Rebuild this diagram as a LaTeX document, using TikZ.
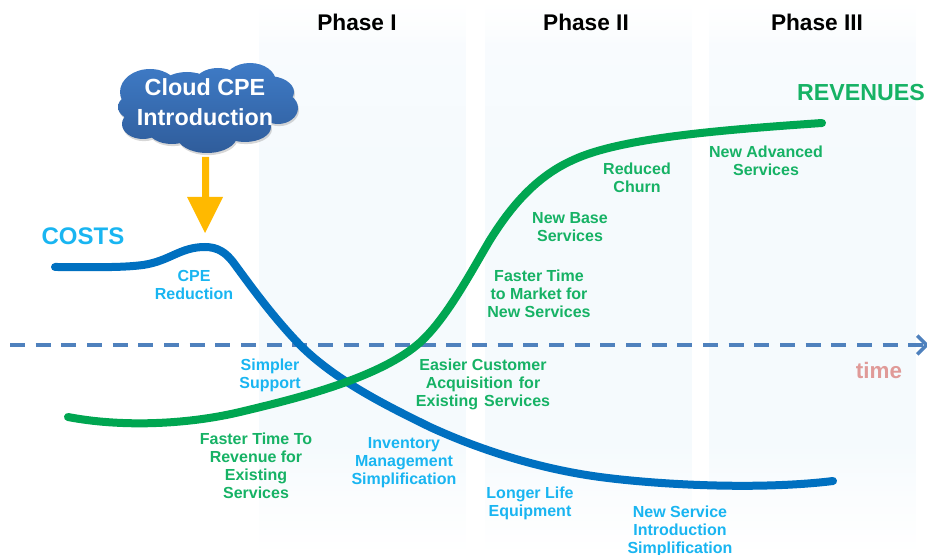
\documentclass[tikz,border=0pt]{standalone}
\usepackage{fontspec}
\setmainfont{Liberation Sans}
\usetikzlibrary{arrows.meta,calc}
\definecolor{costblue}{HTML}{0070C0}
\definecolor{costtxt}{HTML}{19B5F1}
\definecolor{revgreen}{HTML}{00A651}
\definecolor{revtxt}{HTML}{16B265}
\definecolor{axisblue}{HTML}{4F81BD}
\definecolor{timepink}{HTML}{E09A98}
\definecolor{cloudtop}{HTML}{3F7CC8}
\definecolor{cloudbot}{HTML}{2F5C9A}
\definecolor{arroworange}{HTML}{FFB900}
\definecolor{bandA}{HTML}{FBFDFE}
\definecolor{bandB}{HTML}{F5FAFD}
\definecolor{bandC}{HTML}{F8FBFE}
\pgfdeclareverticalshading{bandfade}{100bp}{
  color(0bp)=(white); color(25bp)=(white);
  color(30bp)=(bandA); color(35bp)=(bandB);
  color(60bp)=(bandB); color(71bp)=(bandC); color(72bp)=(bandA);
  color(75bp)=(white); color(100bp)=(white)}
\tikzset{
  x=0.75pt,y=-0.75pt,
  band/.style={minimum width=154.5pt,minimum height=416.25pt,inner sep=0,anchor=north west,shading=bandfade},
  phase/.style={font=\bfseries\fontsize{17}{20}\selectfont,text=black},
  costlab/.style={font=\bfseries\fontsize{12}{13.5}\selectfont,text=costtxt,align=center,inner sep=0},
  revlab/.style={font=\bfseries\fontsize{12}{13.5}\selectfont,text=revtxt,align=center,inner sep=0},
  curve/.style={line width=6pt,line cap=round},
  cloudpath/.style={insert path={
    (150,92) circle[x radius=30,y radius=23] (136,107) circle[x radius=18,y radius=13]
    (143,124) circle[x radius=21,y radius=15] (172,130) circle[x radius=24,y radius=14]
    (207,136) circle[x radius=30,y radius=17] (245,127) circle[x radius=26,y radius=15]
    (278,108) circle[x radius=20,y radius=16] (268,92) circle[x radius=26,y radius=16]
    (250,82) circle[x radius=26,y radius=19] (218,84) circle[x radius=24,y radius=16]
    (187,88) circle[x radius=27,y radius=16] (205,110) circle[x radius=75,y radius=28]}},
}
\begin{document}
\begin{tikzpicture}
\useasboundingbox (0,0) rectangle (927,555);
\node[band] (b1) at (259,0) {};
\node[band] (b2) at (485,0) {};
\node[band] (b3) at (709,0) {};
\node[phase] (p1) at (357,22) {Phase I};
\node[phase] (p2) at (586,22) {Phase II};
\node[phase] (p3) at (817,22) {Phase III};
% axis
\coordinate (a0) at (10,345);
\coordinate (a1) at (929,345);
\draw[axisblue,line width=2.6pt,dash pattern=on 11.25pt off 8pt,-{Straight Barb[length=7pt,width=14pt]}] (a0) -- (a1);
% curves
\coordinate (c0) at (55,267);
\coordinate (c1) at (833,481);
\draw[costblue,curve] (c0) .. controls (90,267) and (120,268) .. (143,265)
  .. controls (170,261) and (180,247) .. (205,247)
  .. controls (218,247) and (226,253) .. (233,262)
  .. controls (250,285) and (272,316) .. (300,345)
  .. controls (335,380) and (385,405) .. (430,427)
  .. controls (480,450) and (540,469) .. (600,477)
  .. controls (660,485) and (760,490) .. (c1);
\coordinate (r0) at (68,417);
\coordinate (r1) at (822,123);
\draw[revgreen,curve] (r0) .. controls (120,427) and (185,425) .. (240,412)
  .. controls (290,400) and (375,380) .. (417,345)
  .. controls (445,322) and (472,270) .. (490,240)
  .. controls (510,208) and (535,177) .. (573,160)
  .. controls (620,138) and (720,130) .. (r1);
% arrow
\fill[arroworange] (202,157) -- (209,157) -- (209,197) -- (223,197) -- (205,233) -- (187,197) -- (202,197) -- cycle;
% cloud
\fill[black!45,opacity=.35,xshift=.75pt,yshift=-1.6pt,cloudpath];
\begin{scope}
\clip[cloudpath];
\shade[top color=cloudtop,bottom color=cloudbot] (110,60) rectangle (305,155);
\end{scope}
\node[font=\bfseries\fontsize{17.5}{23}\selectfont,text=white,align=center,inner sep=0] (cl) at (205,102) {Cloud CPE\\Introduction};
% labels
\node[font=\bfseries\fontsize{18}{20}\selectfont,text=costtxt,inner sep=0] (costs) at (83,236) {COSTS};
\node[font=\bfseries\fontsize{17.4}{20}\selectfont,text=revtxt,inner sep=0] (rev) at (861,93) {REVENUES};
\node[font=\bfseries\fontsize{16.8}{20}\selectfont,text=timepink,inner sep=0] (time) at (879,370) {time};
\node[costlab] (l1) at (194,285) {CPE\\Reduction};
\node[costlab] (l2) at (270,375) {Simpler\\Support};
\node[costlab] (l3) at (404,463) {Inventory\\Management\\Simplification};
\node[costlab] (l4) at (530,503) {Longer Life\\Equipment};
\node[costlab] (l5) at (680,531) {New Service\\Introduction\\Simplification};
\node[revlab] (g1) at (256,466) {Faster Time To\\Revenue for\\Existing\\Services};
\node[revlab] (g2) at (483,384) {Easier Customer\\Acquisition\hspace{.1em} for\\Existing\hspace{.1em} Services};
\node[revlab] (g3) at (539,294) {Faster Time\\to Market for\\New Services};
\node[revlab] (g4) at (570,227) {New Base\\Services};
\node[revlab] (g5) at (637,178) {Reduced\\Churn};
\node[revlab] (g6) at (766,161) {New Advanced\\Services};
\end{tikzpicture}
\end{document}
